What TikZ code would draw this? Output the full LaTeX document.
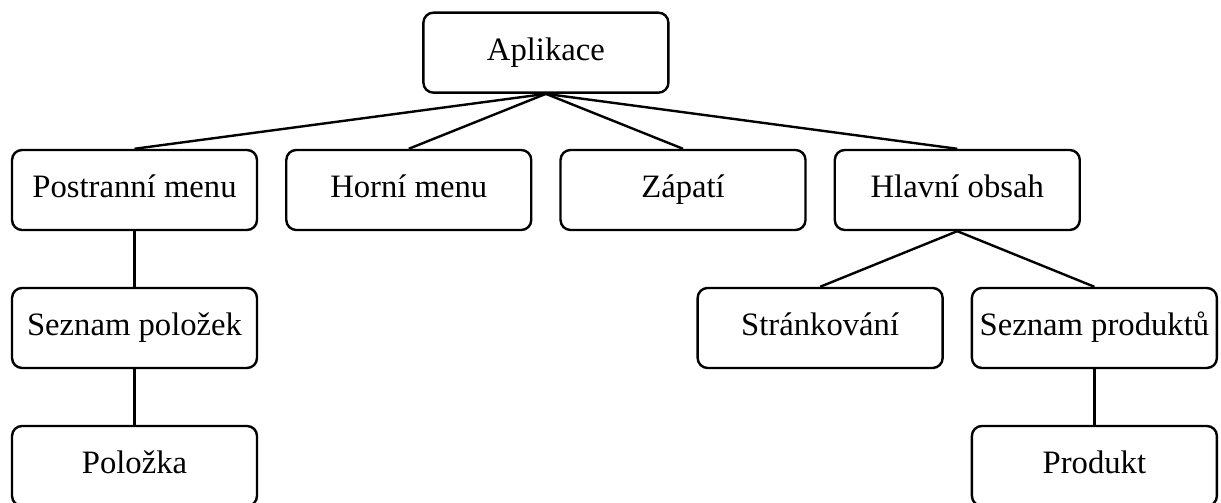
\documentclass[tikz,border=0pt]{standalone}
\usepackage{fontspec}
\setmainfont{Liberation Serif}
\usetikzlibrary{positioning}

\begin{document}
\begin{tikzpicture}[
		every node/.style={
			align=center,
			font=\fontsize{24.5}{29}\selectfont,
			text height=17pt,
			text depth=5pt,
			inner sep=0pt,
		},
		box/.style={draw, rounded corners=7.5pt, minimum width=183.75pt, minimum height=60pt},
		line width=1.8pt,
		node distance=103.5pt and 205.7pt,
		on grid,
		]

		\useasboundingbox (-100.9pt,142.5pt) rectangle (814.9pt,-234.75pt);

		\node (postranni) [box] {Postranní menu};
		\node (horni) [box, right = of postranni] {Horní menu};
		\node (zapati) [box, right = of horni] {Zápatí};
		\node (hlavni) [box, right = of zapati] {Hlavní obsah};
		\node (aplikace) [box, above right = 103pt and 102.85pt of horni] {Aplikace};
		\node (seznampolozek) [box, below = of postranni] {Seznam položek};
		\node (polozka) [box, below = of seznampolozek] {Položka};
		\node (strankovani) [box, below left = 103.5pt and 102.85pt of hlavni] {Stránkování};
		\node (seznamproduktu) [box, below right = 103.5pt and 102.85pt of hlavni] {Seznam produktů};
		\node (produkt) [box, below = of seznamproduktu] {Produkt};

		\draw (aplikace.south) -- (postranni.north);
		\draw (aplikace.south) -- (horni.north);
		\draw (aplikace.south) -- (zapati.north);
		\draw (aplikace.south) -- (hlavni.north);
		\draw (postranni) -- (seznampolozek);
		\draw (seznampolozek) -- (polozka);
		\draw (hlavni.south) -- (strankovani.north);
		\draw (hlavni.south) -- (seznamproduktu.north);
		\draw (seznamproduktu) -- (produkt);

	\end{tikzpicture}
\end{document}
